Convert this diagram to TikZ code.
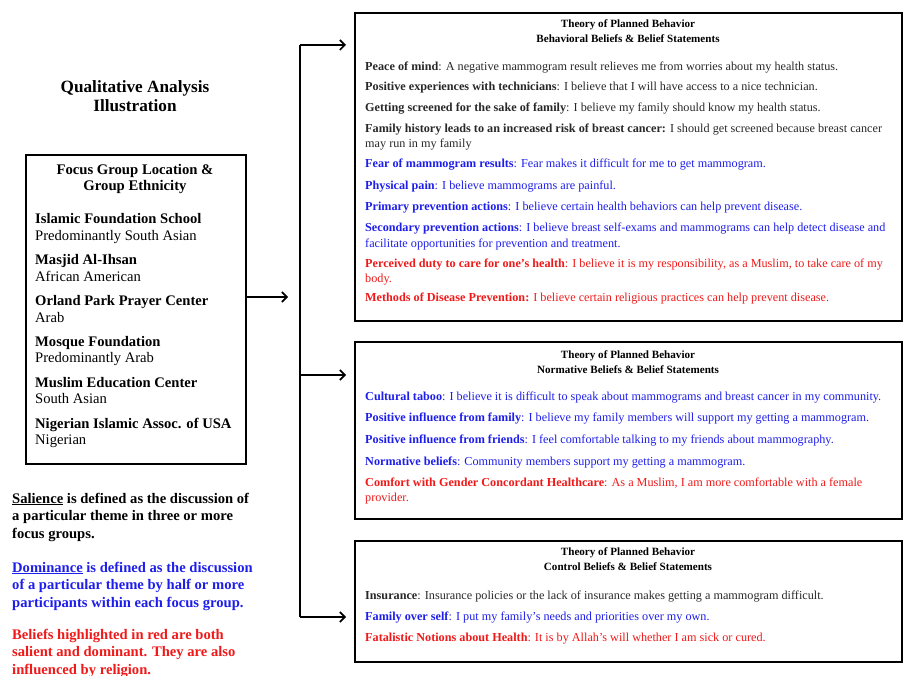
\documentclass[tikz,border=0pt]{standalone}
\usepackage{fontspec}
\setmainfont{Liberation Serif}
\usepackage{xcolor}
\usepackage{tikz}
\usetikzlibrary{calc, arrows.meta, positioning}

\definecolor{salblue}{RGB}{30,30,235}
\definecolor{domred}{RGB}{240,25,25}
\definecolor{plain}{RGB}{40,40,40}

\tikzset{
	frame/.style={draw, line width=2pt, inner sep=0pt},
	arr/.style={line width=1.6pt, -{Straight Barb[length=5pt, width=10pt, line width=1.6pt]}},
	head/.style={font=\fontsize{11.1}{15}\selectfont\bfseries, align=center, inner sep=0pt},
	item/.style={anchor=base west, inner sep=0pt, align=left, text=plain, font=\fontsize{12.2}{15.5}\selectfont},
	place/.style={anchor=base west, inner sep=0pt, align=left, font=\fontsize{14.6}{17}\selectfont},
	note/.style={anchor=base west, inner sep=0pt, align=left, font=\fontsize{14.6}{17.5}\selectfont\bfseries}
}

\begin{document}
\begin{tikzpicture}[x=1pt, y=-1pt]
			\def\bx{354};
			\def\bw{547};
			\def\tx{365};

			\useasboundingbox (0,0) rectangle (903,676);

			% left side (base anchor of a node with several lines sits on its last line)
			\node [font=\fontsize{17.2}{19}\selectfont\bfseries, align=center] (title) at (135,96.5) {Qualitative Analysis\\Illustration};

			\node [frame, anchor=north west, minimum width=220, minimum height=309] (focus) at (25,154) {};
			\node [head, font=\fontsize{14.7}{16.5}\selectfont\bfseries] (focushead) at (135,179) {Focus Group Location \&\\Group Ethnicity};

			\node [place] (ifs) at (35,241) {\textbf{Islamic Foundation School}\\Predominantly South Asian};
			\node [place] (mai) at (35,282) {\textbf{Masjid Al-Ihsan}\\African American};
			\node [place] (opp) at (35,323) {\textbf{Orland Park Prayer Center}\\Arab};
			\node [place] (mfd) at (35,363) {\textbf{Mosque Foundation}\\Predominantly Arab};
			\node [place] (mec) at (35,404) {\textbf{Muslim Education Center}\\South Asian};
			\node [place] (nia) at (35,445) {\textbf{Nigerian Islamic Assoc. of USA}\\Nigerian};

			\node [note] (salience) at (12,538) {\underline{Salience} is defined as the discussion of\\a particular theme in three or more\\focus groups.};
			\node [note, text=salblue] (dominance) at (12,607) {\underline{Dominance} is defined as the discussion\\of a particular theme by half or more\\participants within each focus group.};
			\node [note, text=domred] (redkey) at (12,674) {Beliefs highlighted in red are both\\salient and dominant. They are also\\influenced by religion.};

			% boxes on the right
			\node [frame, anchor=north west, minimum width=\bw, minimum height=308] (behav) at (\bx,12) {};
			\node [frame, anchor=north west, minimum width=\bw, minimum height=177] (norm) at (\bx,341) {};
			\node [frame, anchor=north west, minimum width=\bw, minimum height=121] (ctrl) at (\bx,540) {};

			% connectors
			\begin{scope}
				\coordinate (hubin) at (288,297);
				\coordinate (spinetop) at (300,45);
				\coordinate (spinemid) at (300,375);
				\coordinate (spinebot) at (300,617);

				\draw [arr] (focus.east |- hubin) -- (hubin);
				\draw [line width=1.6pt] (spinetop) -- (spinebot);
			\end{scope}

			\begin{scope}[arr, shorten >=8pt]
				\draw (spinetop) -- (spinetop -| behav.west);
				\draw (spinemid) -- (spinemid -| norm.west);
				\draw (spinebot) -- (spinebot -| ctrl.west);
			\end{scope}

			% behavioral beliefs
			\node [head] (behavhead) at (628,31.5) {Theory of Planned Behavior\\Behavioral Beliefs \& Belief Statements};
			\node [item] (b1) at (\tx,71) {\textbf{Peace of mind}: A negative mammogram result relieves me from worries about my health status.};
			\node [item] (b2) at (\tx,91) {\textbf{Positive experiences with technicians}: I believe that I will have access to a nice technician.};
			\node [item] (b3) at (\tx,112) {\textbf{Getting screened for the sake of family}: I believe my family should know my health status.};
			\node [item] (b4) at (\tx,148) {\textbf{Family history leads to an increased risk of breast cancer:} I should get screened because breast cancer\\may run in my family};
			\node [item, text=salblue] (b5) at (\tx,168) {\textbf{Fear of mammogram results}: Fear makes it difficult for me to get mammogram.};
			\node [item, text=salblue] (b6) at (\tx,190) {\textbf{Physical pain}: I believe mammograms are painful.};
			\node [item, text=salblue] (b7) at (\tx,211) {\textbf{Primary prevention actions}: I believe certain health behaviors can help prevent disease.};
			\node [item, text=salblue] (b8) at (\tx,247.5) {\textbf{Secondary prevention actions}: I believe breast self-exams and mammograms can help detect disease and\\facilitate opportunities for prevention and treatment.};
			\node [item, text=domred] (b9) at (\tx,283) {\textbf{Perceived duty to care for one's health}: I believe it is my responsibility, as a Muslim, to take care of my\\body.};
			\node [item, text=domred] (b10) at (\tx,302) {\textbf{Methods of Disease Prevention:} I believe certain religious practices can help prevent disease.};

			% normative beliefs
			\node [head] (normhead) at (628,362) {Theory of Planned Behavior\\Normative Beliefs \& Belief Statements};
			\node [item, text=salblue] (n1) at (\tx,401) {\textbf{Cultural taboo}: I believe it is difficult to speak about mammograms and breast cancer in my community.};
			\node [item, text=salblue] (n2) at (\tx,422) {\textbf{Positive influence from family}: I believe my family members will support my getting a mammogram.};
			\node [item, text=salblue] (n3) at (\tx,443) {\textbf{Positive influence from friends}: I feel comfortable talking to my friends about mammography.};
			\node [item, text=salblue] (n4) at (\tx,465) {\textbf{Normative beliefs}: Community members support my getting a mammogram.};
			\node [item, text=domred] (n5) at (\tx,501.5) {\textbf{Comfort with Gender Concordant Healthcare}: As a Muslim, I am more comfortable with a female\\provider.};

			% control beliefs
			\node [head] (ctrlhead) at (628,559.5) {Theory of Planned Behavior\\Control Beliefs \& Belief Statements};
			\node [item] (c1) at (\tx,599) {\textbf{Insurance}: Insurance policies or the lack of insurance makes getting a mammogram difficult.};
			\node [item, text=salblue] (c2) at (\tx,620) {\textbf{Family over self}: I put my family's needs and priorities over my own.};
			\node [item, text=domred] (c3) at (\tx,641) {\textbf{Fatalistic Notions about Health}: It is by Allah's will whether I am sick or cured.};
		\end{tikzpicture}
\end{document}
